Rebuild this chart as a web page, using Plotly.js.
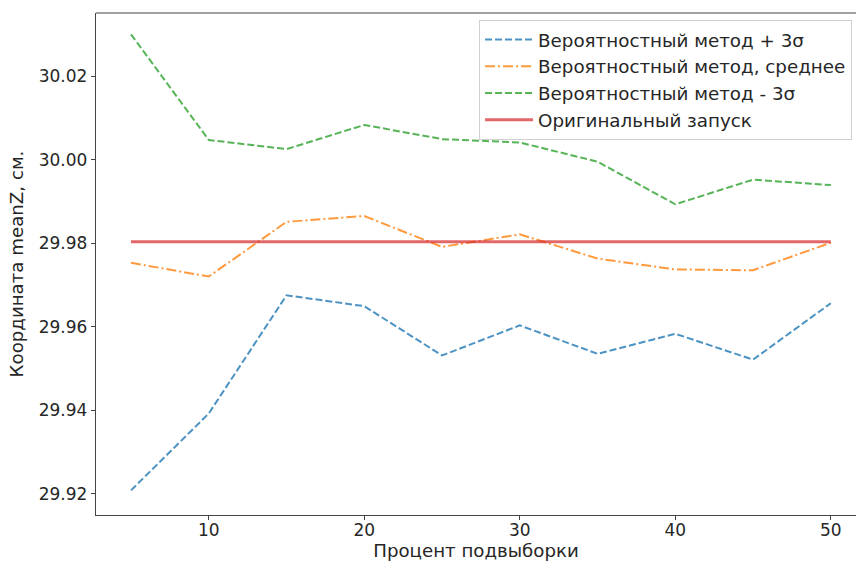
<!DOCTYPE html>
<html>
<head>
<meta charset="utf-8">
<script src="https://cdn.plot.ly/plotly-3.0.1.min.js"></script>
<style>html,body{margin:0;padding:0;background:#fff;}#chart{width:856px;height:561px;}</style>
</head>
<body>
<div id="chart"></div>
<script>
const percent = [5, 10, 15, 20, 25, 30, 35, 40, 45, 50];
const plus3sigma = [29.9208, 29.9392, 29.9675, 29.9649, 29.9531, 29.9603, 29.9535, 29.9583, 29.9521, 29.9656];
const meanValues = [29.9753, 29.9720, 29.9851, 29.9865, 29.9791, 29.9821, 29.9763, 29.9737, 29.9735, 29.9801];
const minus3sigma = [30.0300, 30.0047, 30.0025, 30.0083, 30.0049, 30.0041, 29.9995, 29.9893, 29.9952, 29.9939];
const originalRun = [29.9803, 29.9803, 29.9803, 29.9803, 29.9803, 29.9803, 29.9803, 29.9803, 29.9803, 29.9803];
const seriesNames = ["Вероятностный метод + 3σ", "Вероятностный метод, среднее", "Вероятностный метод - 3σ", "Оригинальный запуск"];
const yTicks = [29.92, 29.94, 29.96, 29.98, 30.00, 30.02];
const xTicks = [10, 20, 30, 40, 50];

const font = "DejaVu Sans, sans-serif";
const txt = "#262626";
const traces = [
  {x: percent, y: plus3sigma, name: seriesNames[0], mode: "lines", line: {color: "#1f77b4", width: 2, dash: "7px,3px"}, opacity: 0.8},
  {x: percent, y: meanValues, name: seriesNames[1], mode: "lines", line: {color: "#ff7f0e", width: 2, dash: "10px,3px,2px,3px"}, opacity: 0.8},
  {x: percent, y: minus3sigma, name: seriesNames[2], mode: "lines", line: {color: "#2ca02c", width: 2, dash: "7px,3px"}, opacity: 0.8},
  {x: percent, y: originalRun, name: seriesNames[3], mode: "lines", line: {color: "#d62728", width: 3}, opacity: 0.7}
];
const layout = {
  width: 856, height: 561,
  margin: {l: 96, r: 0, t: 13, b: 46},
  paper_bgcolor: "#fff", plot_bgcolor: "#fff",
  font: {family: font, size: 17, color: txt},
  showlegend: true,
  legend: {x: 0.504, y: 0.986, xanchor: "left", yanchor: "top", bgcolor: "rgba(255,255,255,0.85)", bordercolor: "#d0d0d0", borderwidth: 1,
           font: {family: font, size: 18.3, color: txt}, tracegroupgap: 0, itemwidth: 48},
  xaxis: {
    range: [2.75, 51.62], tickvals: xTicks, ticktext: xTicks.map(String),
    showgrid: false, zeroline: false, showline: true, linecolor: "#444", linewidth: 1.2,
    ticks: "outside", ticklen: 4, tickcolor: "#444", ticklabelstandoff: -5, tickfont: {family: font, size: 17, color: txt},
    title: {text: "Процент подвыборки", font: {family: font, size: 18.2, color: txt}, standoff: 2}
  },
  yaxis: {
    range: [29.9149, 30.0351], tickvals: yTicks, ticktext: yTicks.map(v => v.toFixed(2)),
    showgrid: false, zeroline: false, showline: true, linecolor: "#444", linewidth: 1.2,
    ticks: "outside", ticklen: 4, tickcolor: "#444", tickfont: {family: font, size: 17, color: txt},
    title: {text: "Координата meanZ, см.", font: {family: font, size: 18.2, color: txt}, standoff: 10}
  },
  shapes: [{type: "line", xref: "paper", yref: "paper", x0: 0, x1: 1, y0: 1, y1: 1, line: {color: "#444", width: 1.2}}]
};
Plotly.newPlot("chart", traces, layout, {displayModeBar: false, staticPlot: true});
</script>
</body>
</html>
